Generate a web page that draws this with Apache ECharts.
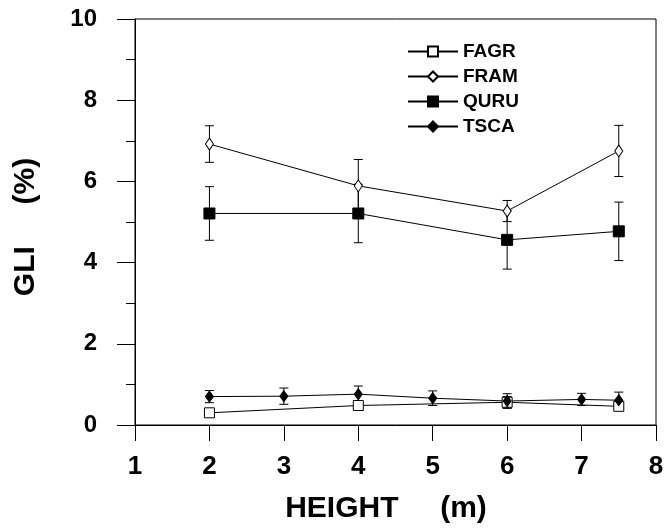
<!DOCTYPE html>
<html><head><meta charset="utf-8">
<script src="https://cdn.jsdelivr.net/npm/echarts@6/dist/echarts.min.js"></script>
<style>html,body{margin:0;padding:0;background:#fff}#c{width:671px;height:528px}</style>
</head><body><div id="c"></div>
<script>
const seriesNames = ['FAGR', 'FRAM', 'QURU', 'TSCA'];
const fagrX = [2, 4, 6, 7.5];
const fagrY = [0.30, 0.48, 0.56, 0.46];
const fagrErr = [0.03, 0.10, 0.14, 0.09];
const framX = [2, 4, 6, 7.5];
const framY = [6.92, 5.89, 5.27, 6.75];
const framErr = [0.45, 0.65, 0.26, 0.63];
const quruX = [2, 4, 6, 7.5];
const quruY = [5.21, 5.21, 4.56, 4.77];
const quruErr = [0.66, 0.72, 0.72, 0.72];
const tscaX = [2, 3, 4, 5, 6, 7, 7.5];
const tscaY = [0.70, 0.71, 0.76, 0.66, 0.59, 0.63, 0.61];
const tscaErr = [0.15, 0.20, 0.20, 0.18, 0.18, 0.15, 0.20];
const xTitle = 'HEIGHT     (m)';
const yTitle = 'GLI     (%)';

const FONT = '"Liberation Sans", Arial, Helvetica, sans-serif';

function pts(xs, ys) { return xs.map((x, i) => [x, ys[i]]); }
function errs(xs, ys, es) { return xs.map((x, i) => [x, ys[i] - es[i], ys[i] + es[i]]); }

function errRender(params, api) {
  const x = api.value(0);
  const top = api.coord([x, api.value(2)]);
  const bot = api.coord([x, api.value(1)]);
  const hw = 4.5;
  const st = { stroke: '#000', lineWidth: 1, fill: null };
  return {
    type: 'group',
    children: [
      { type: 'line', shape: { x1: top[0], y1: top[1], x2: bot[0], y2: bot[1] }, style: st },
      { type: 'line', shape: { x1: top[0] - hw, y1: top[1], x2: top[0] + hw, y2: top[1] }, style: st },
      { type: 'line', shape: { x1: bot[0] - hw, y1: bot[1], x2: bot[0] + hw, y2: bot[1] }, style: st }
    ]
  };
}

function errSeries(name, data) {
  return {
    type: 'custom', name: name + ' err', data: data, renderItem: errRender,
    encode: { x: 0, y: [1, 2] }, z: 1, silent: true
  };
}

function lineSeries(name, data, symbol, size, fill) {
  return {
    type: 'line', name: name, data: data, symbol: symbol, symbolSize: size,
    showSymbol: true, z: 3,
    lineStyle: { color: '#000', width: 1 },
    itemStyle: { color: fill, borderColor: '#000', borderWidth: 1 }
  };
}

const chart = echarts.init(document.getElementById('c'), null, { renderer: 'canvas' });
chart.setOption({
  animation: false,
  backgroundColor: '#fff',
  grid: { left: 135, right: 15, top: 19, bottom: 103, show: true, borderColor: '#000', borderWidth: 1, backgroundColor: 'transparent' },
  xAxis: {
    type: 'value', min: 1, max: 8, interval: 1,
    axisLine: { show: true, onZero: false, lineStyle: { color: '#000', width: 1 } },
    axisTick: { show: true, inside: false, length: 16, lineStyle: { color: '#000', width: 1 } },
    axisLabel: { color: '#000', fontSize: 26, fontWeight: 'bold', fontFamily: FONT, margin: 29, showMaxLabel: true, showMinLabel: true },
    splitLine: { show: false }
  },
  yAxis: {
    type: 'value', min: 0, max: 10, interval: 2,
    axisLine: { show: true, onZero: false, lineStyle: { color: '#000', width: 1 } },
    axisTick: { show: true, inside: false, length: 18, lineStyle: { color: '#000', width: 1 } },
    minorTick: { show: true, splitNumber: 2, length: 9, lineStyle: { color: '#000', width: 1 } },
    minorSplitLine: { show: false },
    axisLabel: { color: '#000', fontSize: 24, fontWeight: 'bold', fontFamily: FONT, margin: 38 },
    splitLine: { show: false }
  },
  legend: {
    data: seriesNames, orient: 'vertical', left: 407, top: 42, padding: 0,
    itemWidth: 50, itemHeight: 12.5, itemGap: 6,
    textStyle: { color: '#000', fontSize: 19, fontWeight: 'bold', fontFamily: FONT },
    selectedMode: false
  },
  graphic: [
    { type: 'text', x: 386, y: 509, style: { text: xTitle, font: 'bold 30px ' + FONT, fill: '#000', align: 'center', verticalAlign: 'middle', textAlign: 'center', textVerticalAlign: 'middle' } },
    { type: 'text', x: 26, y: 227, rotation: Math.PI / 2, style: { text: yTitle, font: 'bold 30px ' + FONT, fill: '#000', align: 'center', verticalAlign: 'middle', textAlign: 'center', textVerticalAlign: 'middle' } }
  ],
  series: [
    errSeries('FAGR', errs(fagrX, fagrY, fagrErr)),
    errSeries('FRAM', errs(framX, framY, framErr)),
    errSeries('QURU', errs(quruX, quruY, quruErr)),
    errSeries('TSCA', errs(tscaX, tscaY, tscaErr)),
    lineSeries('FAGR', pts(fagrX, fagrY), 'rect', 10, '#fff'),
    lineSeries('FRAM', pts(framX, framY), 'diamond', [8, 12], '#fff'),
    lineSeries('QURU', pts(quruX, quruY), 'rect', 11, '#000'),
    lineSeries('TSCA', pts(tscaX, tscaY), 'diamond', [8, 11], '#000')
  ]
});
</script>
</body></html>
